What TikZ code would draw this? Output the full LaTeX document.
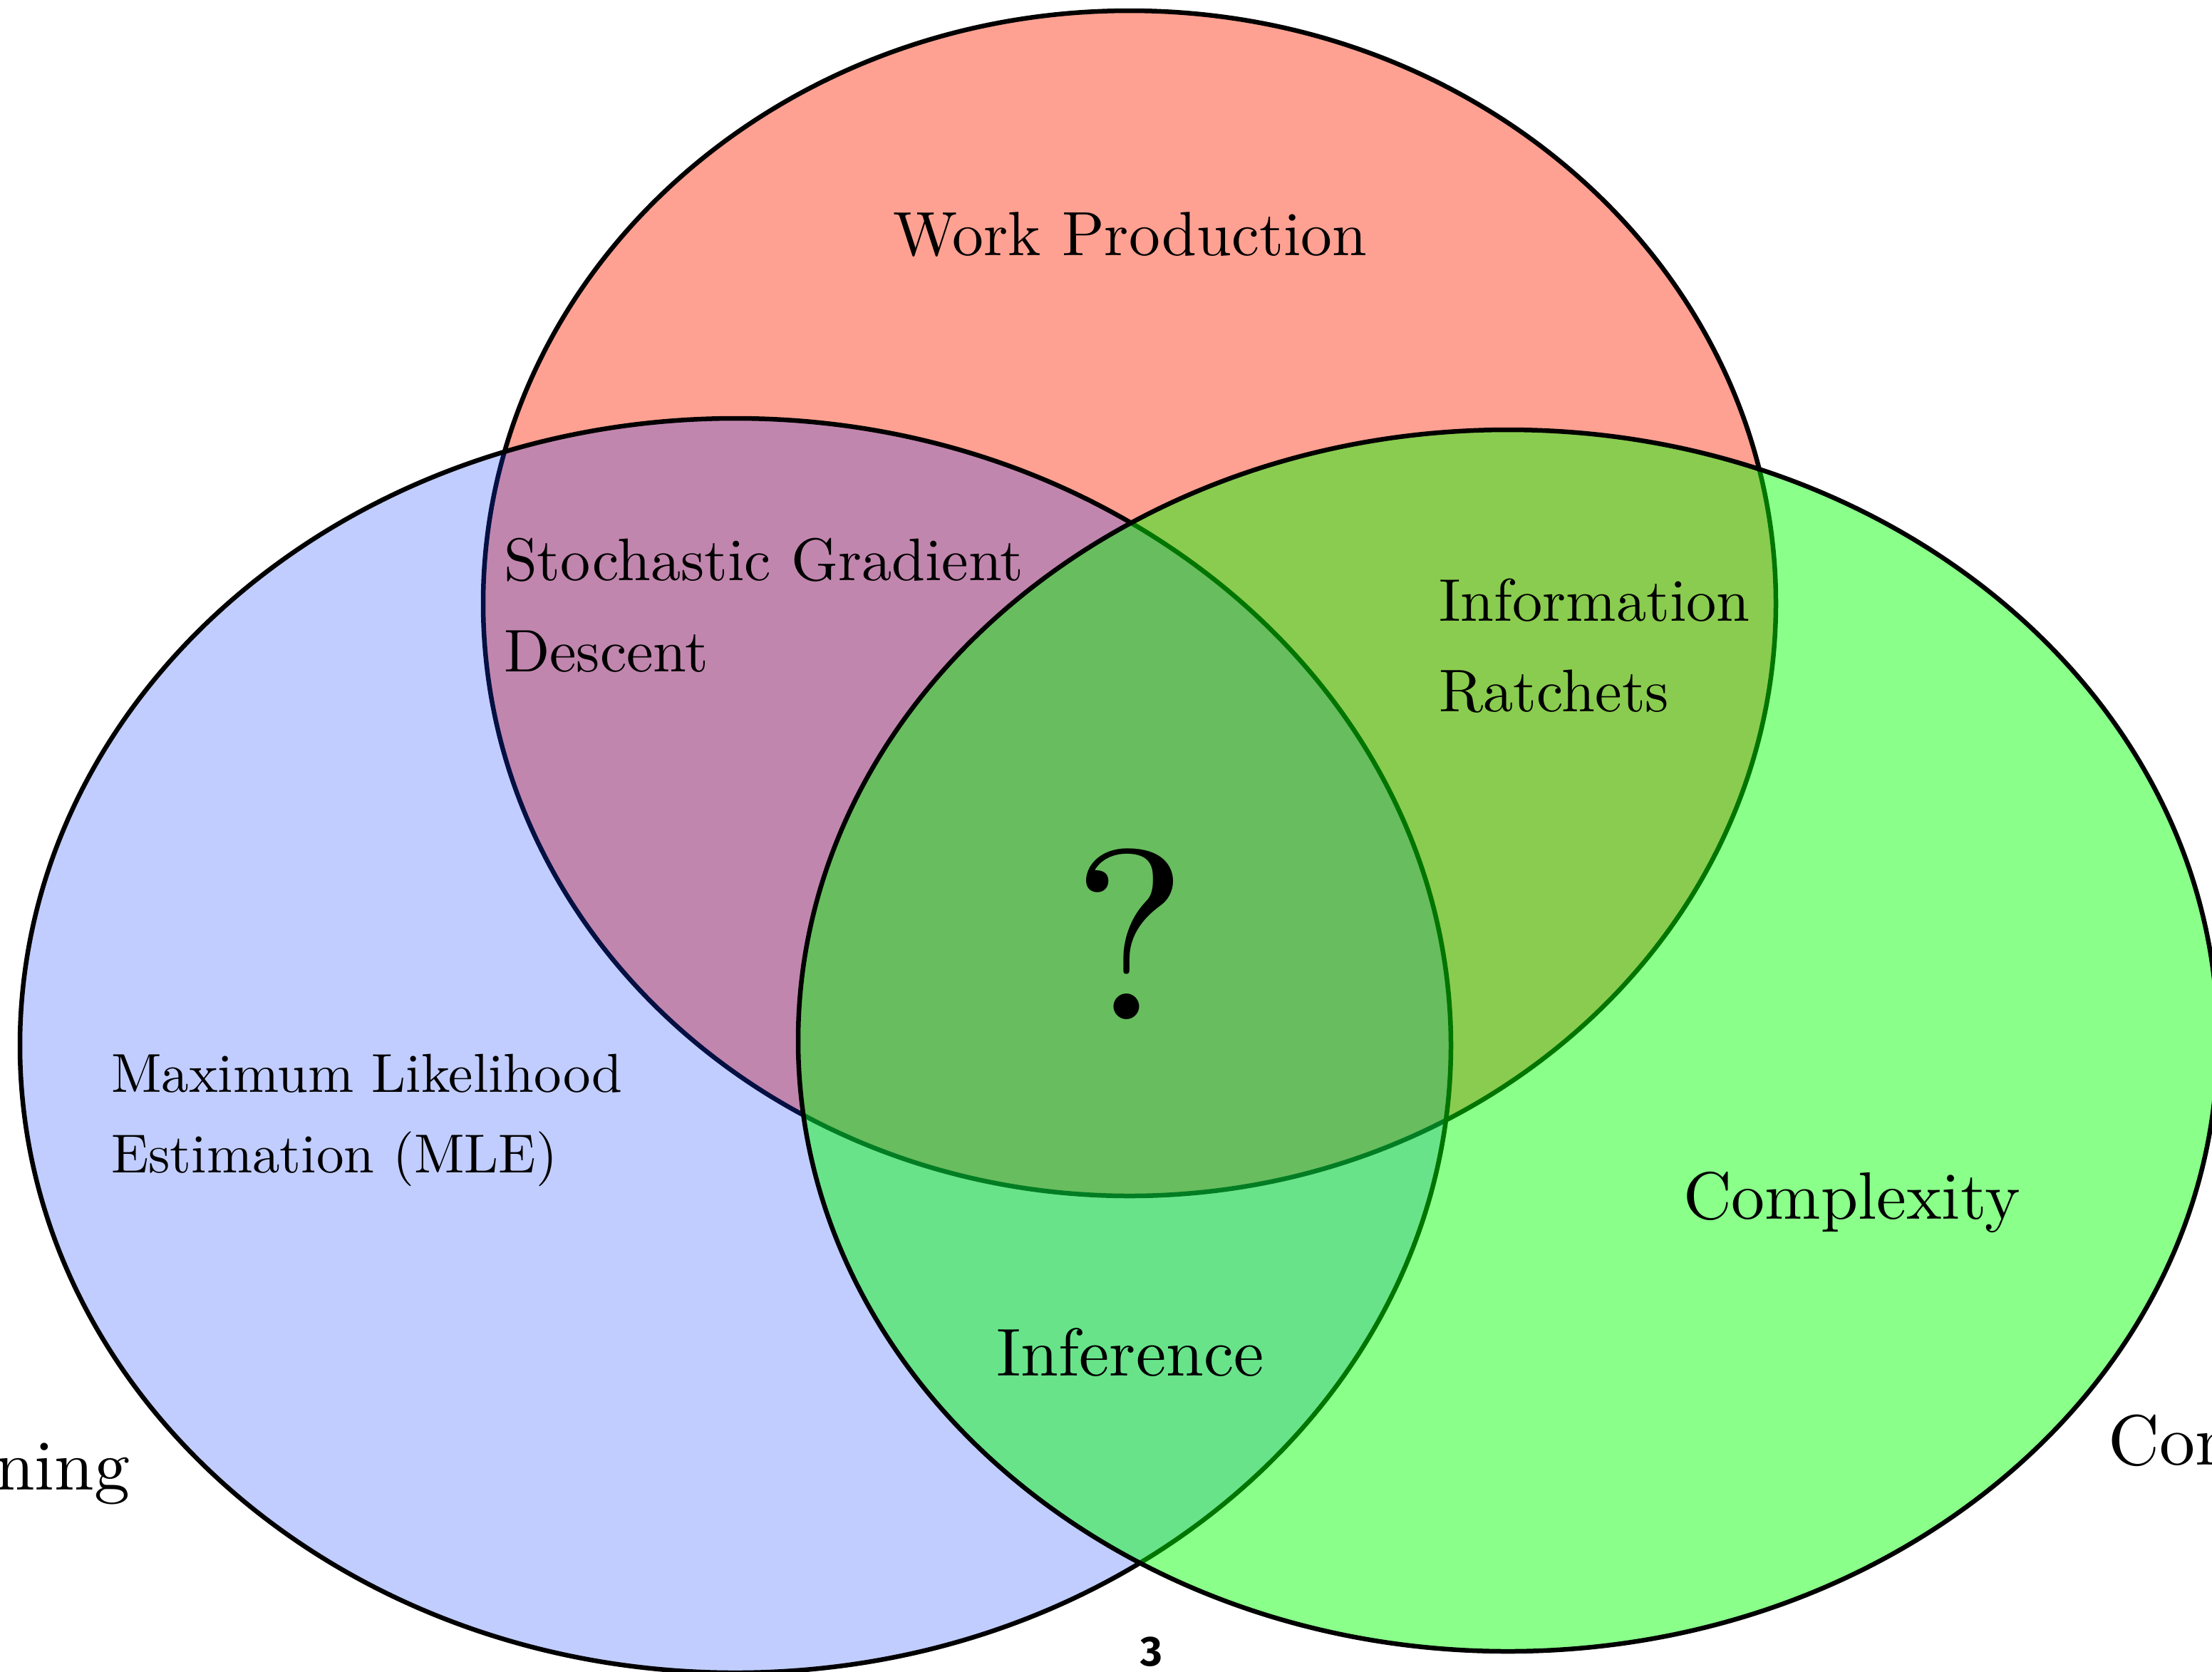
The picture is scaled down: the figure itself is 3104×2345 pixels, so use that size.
\documentclass[tikz,border=0pt]{standalone}
\usepackage{fontspec}
\newfontfamily\pagenumfont{Fira Sans}
\definecolor{setred}{RGB}{255,161,146}
\definecolor{setblue}{RGB}{16,60,255}
\definecolor{setgreen}{RGB}{0,255,0}
\begin{document}
\begin{tikzpicture}[x=0.1pt,y=-0.1pt,
  outline/.style={draw=black,line width=0.65pt},
  lbl/.style={inner sep=0pt,outer sep=0pt}]
\useasboundingbox (0,0) rectangle (3104,2345);
% sets
\path[outline,fill=setred] (1585,846.5) ellipse [x radius=907,y radius=831.5];
\path[outline,fill=setblue,fill opacity=0.26] (1032,1467) ellipse [x radius=1004,y radius=880];
\path[outline,fill=setgreen,fill opacity=0.46] (2116,1460) ellipse [x radius=996,y radius=857];
% labels
\node[lbl,anchor=base,scale=0.877] (work) at (1586,358) {Work Production};
\node[lbl,anchor=base west,scale=0.843] (sgd1) at (707,814) {Stochastic Gradient};
\node[lbl,anchor=base west,scale=0.843] (sgd2) at (707,942) {Descent};
\node[lbl,anchor=base west,scale=0.845] (info1) at (2019,871) {Information};
\node[lbl,anchor=base west,scale=0.845] (info2) at (2019,998) {Ratchets};
\node[lbl,anchor=base west,scale=0.77] (mle1) at (156,1532) {Maximum Likelihood};
\node[lbl,anchor=base west,scale=0.77] (mle2) at (156,1645) {Estimation (MLE)};
\node[lbl,anchor=base west,scale=0.94] (cplx) at (2362,1710) {Complexity};
\node[lbl,anchor=base,scale=0.95] (infer) at (1586,1930) {Inference};
\node[lbl,anchor=base,scale=3.4] (q) at (1586,1430) {?};
\node[lbl,anchor=base east] (learn) at (182,2090) {Learning};
\node[lbl,anchor=base west] (comp) at (2958,2055) {Computation};
\node[lbl,anchor=center] (pnum) at (1616,2318) {\pagenumfont\fontseries{sb}\selectfont\fontsize{5.9}{7}\selectfont 3};
\end{tikzpicture}
\end{document}
